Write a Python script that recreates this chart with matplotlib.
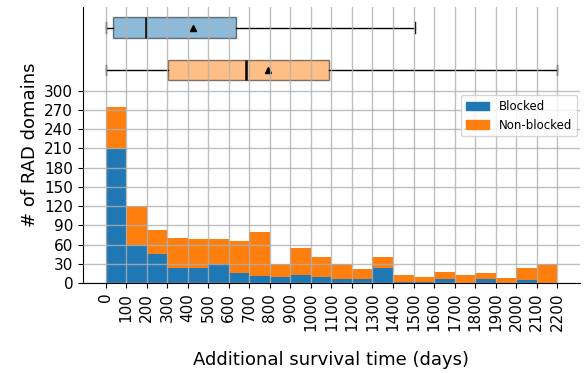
import numpy as np
import matplotlib
matplotlib.use('Agg')
import matplotlib.pyplot as plt

# Histogram counts per 100-day bin (0-100, 100-200, ..., 2100-2200)
bin_edges = list(range(0, 2300, 100))
blocked = [209, 60, 45, 24, 24, 29, 16, 11, 10, 13, 10, 7, 7, 23, 2, 1, 7, 0, 7, 0, 5, 0]
non_blocked = [65, 60, 37, 47, 44, 40, 49, 68, 20, 41, 30, 23, 15, 17, 10, 9, 11, 13, 8, 8, 19, 30]

# Box plot summaries (days)
labels = ['Blocked', 'Non-blocked']
whislo = [0, 0]
q1 = [34, 305]
med = [198, 685]
q3 = [633, 1088]
whishi = [1506, 2200]
means = [426, 789]

blue = '#1f77b4'
orange = '#ff7f0e'

fig, ax = plt.subplots(figsize=(5.84, 3.73), dpi=100)
fig.subplots_adjust(left=0.142, right=0.993, bottom=0.241, top=0.981)

lefts = np.array(bin_edges[:-1])
ax.bar(lefts, blocked, width=100, align='edge', color=blue, label='Blocked')
ax.bar(lefts, non_blocked, width=100, align='edge', bottom=blocked, color=orange, label='Non-blocked')

# Box plots drawn above the histogram in the same axes
stats = []
for i in range(2):
    stats.append(dict(label=labels[i], whislo=whislo[i], q1=q1[i], med=med[i],
                      q3=q3[i], whishi=whishi[i], mean=means[i], fliers=[]))
bp = ax.bxp(stats, positions=[398, 332], widths=32, orientation='horizontal',
            showmeans=True, patch_artist=True, manage_ticks=False,
            medianprops=dict(color='black', linewidth=1.8),
            meanprops=dict(marker='^', markerfacecolor='black', markeredgecolor='black', markersize=4),
            whiskerprops=dict(color='black', linewidth=1),
            capprops=dict(color='black', linewidth=1),
            boxprops=dict(edgecolor='black', linewidth=1))
for patch, c in zip(bp['boxes'], [blue, orange]):
    patch.set_facecolor(c)
    patch.set_alpha(0.5)
    patch.set_edgecolor('black')

ax.set_xlim(-110, 2310)
ax.set_ylim(0, 430)
ax.set_xticks(bin_edges)
ax.set_xticklabels([str(v) for v in bin_edges], rotation=90, fontsize=11)
ax.set_yticks(range(0, 301, 30))
ax.tick_params(axis='y', labelsize=11)

ax.grid(True, color='#b0b0b0', linewidth=1, alpha=0.8)
ax.set_axisbelow(False)
for s in ['top', 'right']:
    ax.spines[s].set_visible(False)

ax.set_xlabel('Additional survival time (days)', fontsize=13, labelpad=14)
ax.set_ylabel('# of RAD domains', fontsize=13)

handles = [plt.Rectangle((0, 0), 1, 1, color=blue), plt.Rectangle((0, 0), 1, 1, color=orange)]
ax.legend(handles, labels, loc='upper right', bbox_to_anchor=(0.994, 0.681),
          borderaxespad=0, fontsize=8.5)

fig.savefig('out.png', dpi=100)
